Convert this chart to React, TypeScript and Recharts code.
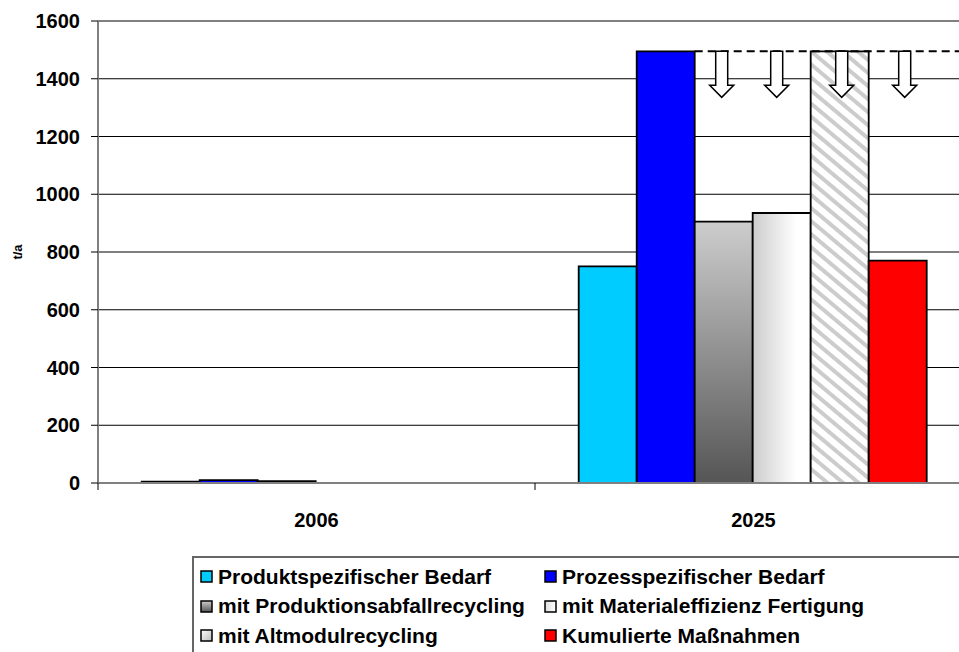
import React from "react";
import {
  BarChart,
  Bar,
  XAxis,
  YAxis,
  CartesianGrid,
  ReferenceLine,
  LabelList,
} from "recharts";

// categories and series values (t/a)
const years = ["2006", "2025"];
const produktBedarf = [5, 750];
const prozessBedarf = [10, 1495];
const abfallRecycling = [6, 905];
const materialEffizienz = [0, 935];
const altmodulRecycling = [0, 1495];
const kumuliert = [0, 770];
const yTicks = [0, 200, 400, 600, 800, 1000, 1200, 1400, 1600];

const seriesNames = [
  "Produktspezifischer Bedarf",
  "Prozesspezifischer Bedarf",
  "mit Produktionsabfallrecycling",
  "mit Materialeffizienz Fertigung",
  "mit Altmodulrecycling",
  "Kumulierte Maßnahmen",
];
const seriesFills = [
  "#00CCFF",
  "#0000FF",
  "url(#gradGray)",
  "url(#gradWhite)",
  "url(#hatch)",
  "#FF0000",
];
const legendFills = [
  "#00CCFF",
  "#0000FF",
  "url(#lgGray)",
  "url(#lgWhite)",
  "url(#lgLight)",
  "#FF0000",
];

const data = years.map((year, i) => ({
  year,
  s0: produktBedarf[i],
  s1: prozessBedarf[i],
  s2: abfallRecycling[i],
  s3: materialEffizienz[i],
  s4: altmodulRecycling[i],
  s5: kumuliert[i],
}));

const CHART_W = 990;
const CHART_H = 540;
const Y_AXIS_W = 98;
const MARGIN = { top: 21, right: 18, bottom: 0, left: 0 };
const BAND = (CHART_W - MARGIN.left - MARGIN.right - Y_AXIS_W) / years.length;
const FONT = "'Liberation Sans', Arial, sans-serif";

// small nudges so the arrows sit where they were placed on the original sheet
const arrowShift = [-2, -5, 2, 7];

const XTick = (props: any) => {
  const { x, y, payload } = props;
  const edge = x - BAND / 2;
  return (
    <g>
      <line x1={edge} x2={edge} y1={y} y2={y + 7} stroke="#000" strokeWidth={1} />
      <text
        x={x}
        y={y + 44}
        textAnchor="middle"
        fontSize={20}
        fontWeight="bold"
        fontFamily={FONT}
        fill="#000"
      >
        {payload.value}
      </text>
    </g>
  );
};

// dashed target line from the process demand bar, plus the reduction arrows
const Reductions = (props: any) => {
  const vb = props.viewBox || props;
  const { x, y, width, height } = vb;
  const value = Number(props.value);
  if (!value || !height || value < 100) return null;
  const base = y + height;
  const target = base - (height * prozessBedarf[1]) / value;
  const blueRight = x - 3 * width;
  const shaft = 6;
  const head = 12;
  const len = 46;
  const headLen = 12;
  return (
    <g>
      <line
        x1={blueRight}
        x2={CHART_W}
        y1={target}
        y2={target}
        stroke="#000"
        strokeWidth={2}
        strokeDasharray="8 5"
      />
      {arrowShift.map((s, i) => {
        const cx = blueRight + width * (i + 0.5) + s;
        const t = target;
        const pts = [
          [cx - shaft, t],
          [cx + shaft, t],
          [cx + shaft, t + len - headLen],
          [cx + head, t + len - headLen],
          [cx, t + len],
          [cx - head, t + len - headLen],
          [cx - shaft, t + len - headLen],
        ]
          .map((p) => p.join(","))
          .join(" ");
        return (
          <polygon key={i} points={pts} fill="#fff" stroke="#000" strokeWidth={1.5} />
        );
      })}
    </g>
  );
};

const Defs = () => (
  <defs>
    <linearGradient id="gradGray" x1="0" y1="0" x2="0" y2="1">
      <stop offset="0%" stopColor="#CDCDCD" />
      <stop offset="100%" stopColor="#555555" />
    </linearGradient>
    <linearGradient id="gradWhite" x1="0" y1="0" x2="1" y2="0">
      <stop offset="0%" stopColor="#CCCCCC" />
      <stop offset="75%" stopColor="#FFFFFF" />
      <stop offset="100%" stopColor="#FFFFFF" />
    </linearGradient>
    <pattern
      id="hatch"
      width="10"
      height="10"
      patternUnits="userSpaceOnUse"
      patternTransform="rotate(-50)"
    >
      <rect width="10" height="10" fill="#fff" />
      <rect width="4" height="10" fill="#CCCCCC" />
    </pattern>
  </defs>
);

const LegendDefs = () => (
  <defs>
    <linearGradient id="lgGray" x1="0" y1="0" x2="0" y2="1">
      <stop offset="0%" stopColor="#CDCDCD" />
      <stop offset="100%" stopColor="#555555" />
    </linearGradient>
    <linearGradient id="lgWhite" x1="0" y1="0" x2="1" y2="0">
      <stop offset="0%" stopColor="#DDDDDD" />
      <stop offset="100%" stopColor="#FFFFFF" />
    </linearGradient>
    <linearGradient id="lgLight" x1="0" y1="0" x2="1" y2="1">
      <stop offset="0%" stopColor="#FFFFFF" />
      <stop offset="100%" stopColor="#BBBBBB" />
    </linearGradient>
  </defs>
);

export default function App() {
  return (
    <div
      style={{
        position: "fixed",
        left: 0,
        top: 0,
        width: 959,
        height: 652,
        overflow: "hidden",
        background: "#fff",
        fontFamily: FONT,
      }}
    >
      <BarChart
        width={CHART_W}
        height={CHART_H}
        data={data}
        margin={MARGIN}
        barCategoryGap="10%"
        barGap={0}
      >
        <Defs />
        <CartesianGrid horizontal vertical={false} stroke="#000" strokeWidth={1} />
        <XAxis
          dataKey="year"
          height={57}
          tickSize={0}
          tickMargin={0}
          tickLine={false}
          axisLine={{ stroke: "#808080", strokeWidth: 2 }}
          tick={<XTick />}
          interval={0}
        />
        <YAxis
          width={Y_AXIS_W}
          domain={[0, 1600]}
          ticks={yTicks}
          interval={0}
          tickSize={7}
          tickMargin={11}
          tickLine={{ stroke: "#000" }}
          axisLine={{ stroke: "#808080", strokeWidth: 2 }}
          tick={{ fontSize: 20, fontWeight: "bold", fill: "#000", fontFamily: FONT }}
          label={{
            value: "t/a",
            angle: -90,
            position: "center",
            dx: -32,
            style: { fontSize: 13, fontWeight: "bold", fill: "#000", fontFamily: FONT },
          }}
        />
        <ReferenceLine y={1600} stroke="#808080" strokeWidth={2} />
        {seriesNames.map((name, i) => (
          <Bar
            key={name}
            dataKey={`s${i}`}
            name={name}
            fill={seriesFills[i]}
            stroke="#000"
            strokeWidth={1.8}
            isAnimationActive={false}
          >
            {i === 5 && <LabelList dataKey="s5" content={<Reductions />} />}
          </Bar>
        ))}
      </BarChart>

      <div
        style={{
          position: "absolute",
          left: 192,
          top: 556,
          width: 780,
          height: 120,
          border: "2px solid #666",
          boxSizing: "border-box",
          display: "grid",
          gridTemplateColumns: "344px auto",
          gridAutoRows: "29.5px",
          paddingTop: 4,
          fontSize: 21,
          fontWeight: "bold",
          color: "#000",
        }}
      >
        {seriesNames.map((name, i) => (
          <div key={name} style={{ display: "flex", alignItems: "center", paddingLeft: 6 }}>
            <svg width={13} height={13} style={{ marginRight: 5, flex: "none" }}>
              {i === 0 && <LegendDefs />}
              <rect
                x={1}
                y={1}
                width={11}
                height={11}
                fill={legendFills[i]}
                stroke="#000"
                strokeWidth={1.5}
              />
            </svg>
            <span style={{ whiteSpace: "nowrap" }}>{name}</span>
          </div>
        ))}
      </div>
    </div>
  );
}
